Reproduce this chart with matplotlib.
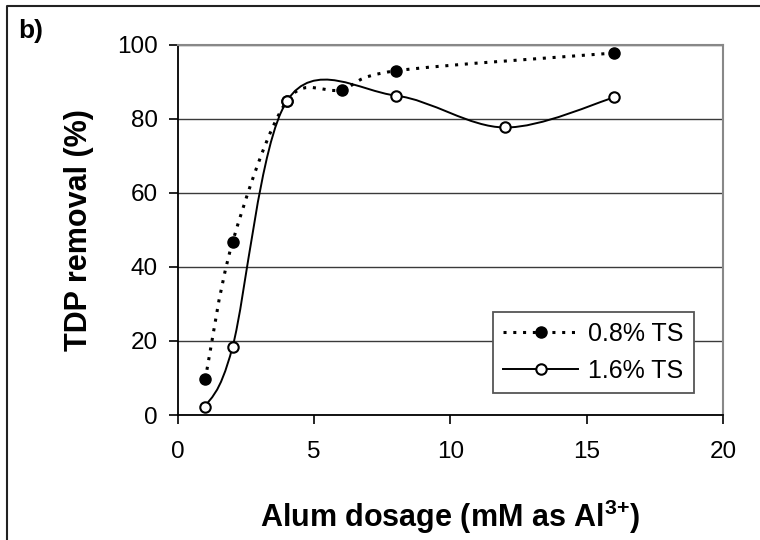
import numpy as np
import matplotlib
matplotlib.use('Agg')
import matplotlib.pyplot as plt
from matplotlib.path import Path
from matplotlib.patches import PathPatch
from matplotlib.lines import Line2D

# data
ts08_x = [1, 2, 4, 6, 8, 16]
ts08_y = [9.6, 46.6, 84.8, 87.8, 92.9, 97.7]
ts16_x = [1, 2, 4, 8, 12, 16]
ts16_y = [2.2, 18.3, 84.8, 86.2, 77.6, 85.7]

labels = ['0.8% TS', '1.6% TS']
xticks = [0, 5, 10, 15, 20]
yticks = [0, 20, 40, 60, 80, 100]

plt.rcParams['font.family'] = ['Liberation Sans', 'DejaVu Sans']
plt.rcParams['mathtext.fontset'] = 'custom'
plt.rcParams['mathtext.rm'] = 'Liberation Sans:bold'
plt.rcParams['mathtext.bf'] = 'Liberation Sans:bold'


def smooth_path(xs, ys):
	# Excel style smoothed line: bezier segments through the points
	pts = np.column_stack([xs, ys]).astype(float)
	ext = np.vstack([pts[0], pts, pts[-1]])
	verts = [pts[0]]
	codes = [Path.MOVETO]
	for i in range(len(pts) - 1):
		p0, p1, p2, p3 = ext[i], ext[i + 1], ext[i + 2], ext[i + 3]
		c1 = p1 + (p2 - p0) / 6.0
		c2 = p2 - (p3 - p1) / 6.0
		verts += [c1, c2, p2]
		codes += [Path.CURVE4] * 3
	return Path(verts, codes)


fig = plt.figure(figsize=(7.6, 5.4), dpi=100)
ax = fig.add_axes([178/760, 1 - 415/540, 545/760, 370.5/540])

ax.set_xlim(0, 20)
ax.set_ylim(0, 100)
ax.set_xticks(xticks)
ax.set_yticks(yticks)
ax.yaxis.grid(True, color='#3a3a3a', lw=1.0)
ax.set_axisbelow(True)

dot = (0, (1, 2.2))
ax.add_patch(PathPatch(smooth_path(ts08_x, ts08_y), fill=False, ec='black',
	lw=2.2, ls=dot, capstyle='butt', zorder=3))
ax.plot(ts08_x, ts08_y, ls='none', marker='o', ms=8, mfc='black', mec='black', zorder=4)

ax.add_patch(PathPatch(smooth_path(ts16_x, ts16_y), fill=False, ec='black',
	lw=1.4, zorder=5))
ax.plot(ts16_x, ts16_y, ls='none', marker='o', ms=7.5, mfc='white', mec='black',
	mew=1.5, zorder=6)

for side in ['left', 'bottom']:
	ax.spines[side].set_color('black')
	ax.spines[side].set_linewidth(1.3)
for side in ['top', 'right']:
	ax.spines[side].set_color('#888888')
	ax.spines[side].set_linewidth(1.5)

ax.tick_params(axis='both', direction='out', length=6.5, width=1.2, labelsize=17.5)
ax.tick_params(axis='x', pad=12)
ax.tick_params(axis='y', pad=8)

ax.set_xlabel(r'Alum dosage (mM as Al$^{3\text{+}}$)', fontsize=22, fontweight='bold')
ax.xaxis.set_label_coords(0.5, -0.222)
ax.set_ylabel('TDP removal (%)', fontsize=22, fontweight='bold')
ax.yaxis.set_label_coords(-0.155, 0.5)

handles = [
	Line2D([], [], color='black', lw=2.2, ls=dot, marker='o', ms=8, mfc='black', mec='black'),
	Line2D([], [], color='black', lw=1.4, marker='o', ms=7.5, mfc='white', mec='black', mew=1.5),
]
leg = ax.legend(handles, labels, loc='upper left', bbox_to_anchor=(493/760, 1 - 312/540),
	bbox_transform=fig.transFigure, borderaxespad=0, fontsize=18, frameon=True,
	fancybox=False, framealpha=1, edgecolor='#555555', handlelength=3.0,
	handletextpad=0.4, labelspacing=0.5, borderpad=0.4)
leg.get_frame().set_linewidth(1.3)
leg.set_zorder(10)

fig.text(18/760, 1 - 38/540, 'b)', fontsize=19, fontweight='bold')

# outer chart frame
fig.add_artist(Line2D([7/760, 7/760, 1], [0, 1 - 6/540, 1 - 6/540],
	transform=fig.transFigure, color='#222222', lw=1.5))

fig.savefig('out.png', dpi=100)
